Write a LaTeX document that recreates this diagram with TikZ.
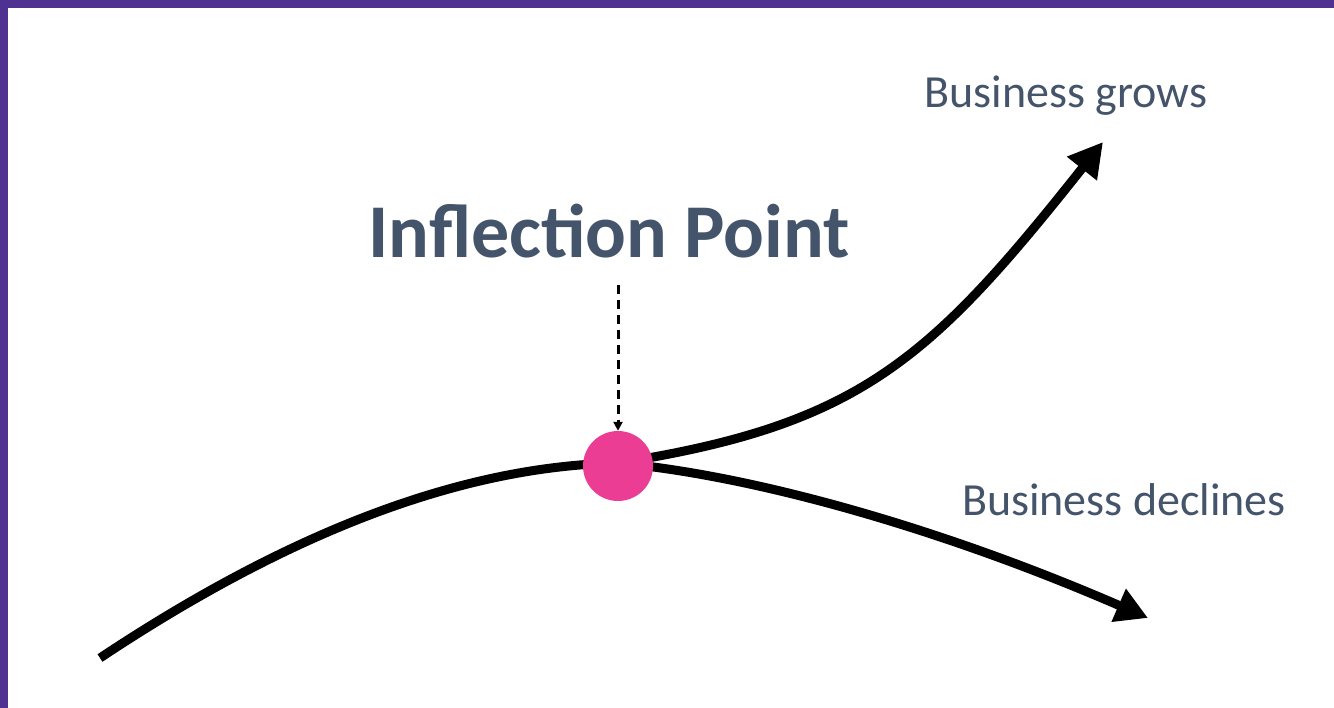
\documentclass[tikz,border=0pt]{standalone}
\usepackage{fontspec}
\setmainfont{Carlito}
\usetikzlibrary{arrows.meta}
\definecolor{frame}{HTML}{4F3191}
\definecolor{label}{HTML}{44546A}
\definecolor{dot}{HTML}{EC3D94}
\tikzset{
  curve/.style={line width=9pt},
  caption/.style={anchor=base,text=label,inner sep=0pt,font=\fontsize{46}{54}\selectfont},
}
\begin{document}
\begin{tikzpicture}[x=1pt,y=-1pt]
\useasboundingbox (0,0) rectangle (1334,708);
\fill[frame] (0,0) rectangle (1334,8);
\fill[frame] (0,0) rectangle (8,708);
%
\node[anchor=base,text=label,inner sep=0pt,font=\bfseries\fontsize{76}{90}\selectfont] (title) at (609,258) {Inflection Point};
\node[caption] (grows) at (1066,108) {Business grows};
\node[caption] (declines) at (1124,515) {Business declines};
%
\coordinate (start) at (100,658);
\coordinate (mid) at (618,463);
\coordinate (up) at (1103,142);
\coordinate (down) at (1148,618);
\coordinate (dashtop) at (618,285);
%
\draw[curve,line cap=butt] (start) .. controls (300,525) and (470,466) .. (mid);
\draw[curve,-{Triangle[length=34pt,width=36pt]}] (mid) .. controls (860,425) and (930,360) .. (up);
\draw[curve,-{Triangle[length=32pt,width=34pt]}] (mid) .. controls (760,476) and (950,532) .. (down);
%
\node[circle,fill=dot,minimum size=70pt,inner sep=0pt] (ip) at (618,466) {};
\draw[line width=3pt,dash pattern=on 9pt off 6pt,-{Triangle[length=9pt,width=9pt]}] (dashtop) -- (ip.north);
\end{tikzpicture}
\end{document}
